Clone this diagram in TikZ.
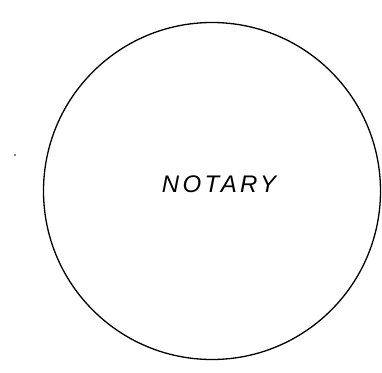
\documentclass[tikz,border=0pt]{standalone}
\usepackage{fontspec}
\setmainfont{Liberation Sans}
\usetikzlibrary{shapes.geometric}

\begin{document}
\begin{tikzpicture}[x=1pt,y=-1pt]
      \useasboundingbox (0,0) rectangle (382,372);
      \node[draw, circle, line width=1.3pt, inner sep=0pt, minimum size=337pt] (notary) at (212,191) {};
      \node[font=\fontsize{24}{27}\selectfont\itshape\addfontfeatures{LetterSpace=14}] (name) at (219,184) {NOTARY};
      \fill (15,155) circle (0.9pt);
  \end{tikzpicture}
\end{document}
